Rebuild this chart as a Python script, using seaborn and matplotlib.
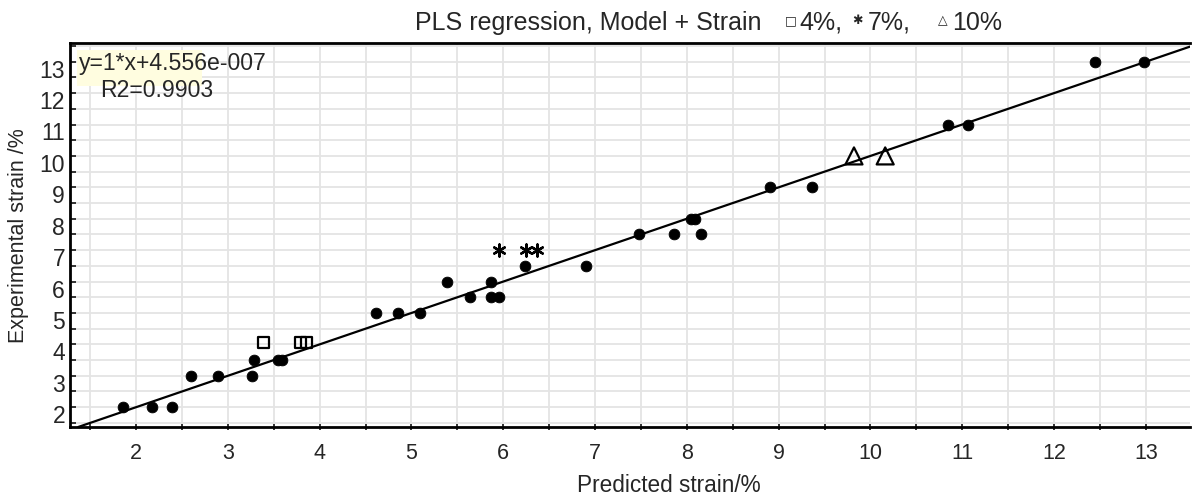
import matplotlib
matplotlib.use("Agg")
import matplotlib.pyplot as plt
import matplotlib.transforms as mtrans
from matplotlib.patches import Rectangle
from matplotlib.ticker import MultipleLocator
import seaborn as sns

# --- data (predicted vs experimental strain, %) ---
circle_x = [1.86, 2.17, 2.39, 2.60, 2.89, 3.26, 3.29, 3.55, 3.59, 4.61, 4.85, 5.09,
            5.39, 5.64, 5.87, 5.87, 5.95, 6.24, 6.90, 7.48, 7.86, 8.15, 8.04, 8.09,
            8.91, 9.36, 10.84, 11.06, 12.45, 12.98]
circle_y = [2, 2, 2, 3, 3, 3, 3.5, 3.5, 3.5, 5, 5, 5,
            6, 5.5, 6, 5.5, 5.5, 6.5, 6.5, 7.5, 7.5, 7.5, 8, 8,
            9, 9, 11, 11, 13, 13]
square_x = [3.39, 3.79, 3.86]      # 4 %
square_y = [4.05, 4.05, 4.05]
star_x = [5.95, 6.25, 6.37]        # 7 %
star_y = [7, 7, 7]
tri_x = [9.82, 10.16]              # 10 %
tri_y = [10, 10]

x_range = (1.28, 13.48)
y_range = (1.37, 13.58)
fit_text = "y=1*x+4.556e-007"
r2_text = "R2=0.9903"
title_main = "PLS regression, Model + Strain"
# (symbol, label) pairs of the legend written into the title line
title_keys = [("\u25a1", "4%,"), ("\u2731", "7%,"), ("\u25b3", "10%")]

sns.set_style("white")
plt.rcParams["font.family"] = ["Liberation Sans", "DejaVu Sans"]

fig = plt.figure(figsize=(11.92, 4.98), dpi=100)
ax = fig.add_axes([0.0587, 0.1426, 0.9396, 0.7701])

sns.scatterplot(x=circle_x, y=circle_y, ax=ax, marker="o", s=60,
                color="black", edgecolor="black", linewidth=0.6, zorder=3)
sns.scatterplot(x=square_x, y=square_y, ax=ax, marker="s", s=62,
                facecolor="none", edgecolor="black", linewidth=1.6, zorder=3)
sns.scatterplot(x=star_x, y=star_y, ax=ax, marker=(6, 2, 0), s=75,
                color="black", edgecolor="black", linewidth=1.7, zorder=3)
sns.scatterplot(x=tri_x, y=tri_y, ax=ax, marker="^", s=150,
                facecolor="none", edgecolor="black", linewidth=1.6, zorder=3)

ax.axline((0, 0), slope=1, color="black", lw=1.6, zorder=2)

ax.set_xlim(*x_range)
ax.set_ylim(*y_range)
ax.xaxis.set_major_locator(MultipleLocator(1))
ax.xaxis.set_minor_locator(MultipleLocator(0.5))
ax.yaxis.set_major_locator(MultipleLocator(1))
ax.yaxis.set_minor_locator(MultipleLocator(0.5))
ax.grid(True, which="both", color="#e4e4e4", lw=1.3, zorder=0)
ax.set_axisbelow(True)

for side in ["left", "bottom", "top"]:
    ax.spines[side].set_linewidth(2)
    ax.spines[side].set_color("black")
ax.spines["right"].set_visible(False)

ax.tick_params(axis="x", which="both", direction="inout", length=5, width=1.3,
               labelsize=15.5, pad=9, bottom=True)
ax.tick_params(axis="y", which="both", direction="in", length=4, width=1.3,
               labelsize=16.5, pad=3.5, left=True)
# labels sit a bit below their ticks, like in the original software
off = mtrans.ScaledTranslation(0, -5 / 72, fig.dpi_scale_trans)
for lab in ax.get_yticklabels():
    lab.set_transform(lab.get_transform() + off)

ax.set_xlabel("Predicted strain/%", fontsize=16.3)
ax.set_ylabel("Experimental strain /%", fontsize=15.5)
ax.xaxis.set_label_coords(0.535, -0.153)
ax.xaxis.label.set_va("center")
ax.yaxis.set_label_coords(-0.046, 0.5)
ax.yaxis.label.set_va("center")

ax.add_patch(Rectangle((0.006, 0.888), 0.112, 0.094, transform=ax.transAxes,
                       facecolor="#fffde0", edgecolor="none", zorder=4))
ax.text(0.008, 0.948, fit_text, transform=ax.transAxes, fontsize=16.6,
        va="center", ha="left", zorder=5)
ax.text(0.027, 0.878, r2_text, transform=ax.transAxes, fontsize=16.6,
        va="center", ha="left", zorder=5)

# title line with its little symbol legend
ty = 0.954
fig.text(0.348, ty, title_main, fontsize=18, ha="left", va="center")
sym_x = [0.663, 0.719, 0.791]
lab_x = [0.671, 0.728, 0.799]
for (sym, lab), sx, lx in zip(title_keys, sym_x, lab_x):
    fig.text(sx, ty + 0.004, sym, fontsize=9, ha="center", va="center",
             family=["DejaVu Sans"], weight="bold")
    fig.text(lx, ty, lab, fontsize=18, ha="left", va="center")

fig.savefig("out.png", dpi=100)
